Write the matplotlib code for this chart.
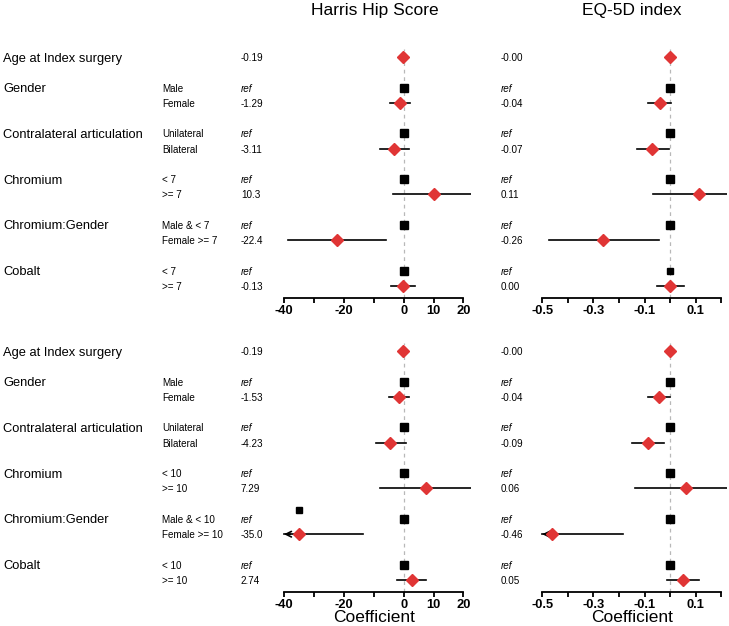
import matplotlib
matplotlib.use('Agg')
import matplotlib.pyplot as plt
from matplotlib import transforms

plt.rcParams['font.family'] = ['Liberation Sans', 'DejaVu Sans']

# ---------------- data ----------------
main_labels = ["Age at Index surgery", "Gender", "Contralateral articulation",
               "Chromium", "Chromium:Gender", "Cobalt"]
main_rows = [0, 2, 5, 8, 11, 14]
rows = [0, 2, 3, 5, 6, 8, 9, 11, 12, 14, 15]
is_ref = [False, True, False, True, False, True, False, True, False, True, False]

sub_top = ["", "Male", "Female", "Unilateral", "Bilateral", "< 7", ">= 7",
           "Male & < 7", "Female >= 7", "< 7", ">= 7"]
sub_bottom = ["", "Male", "Female", "Unilateral", "Bilateral", "< 10", ">= 10",
              "Male & < 10", "Female >= 10", "< 10", ">= 10"]

# Harris Hip Score, top model
hhs_top_est = [-0.19, 0, -1.29, 0, -3.11, 0, 10.3, 0, -22.4, 0, -0.13]
hhs_top_lo = [None, None, -4.7, None, -8.0, None, -3.6, None, -38.8, None, -4.1]
hhs_top_hi = [None, None, 2.2, None, 1.7, None, 25.0, None, -5.8, None, 3.9]
hhs_top_txt = ["-0.19", "ref", "-1.29", "ref", "-3.11", "ref", "10.3", "ref", "-22.4", "ref", "-0.13"]

# EQ-5D index, top model
eq_top_est = [-0.002, 0, -0.04, 0, -0.07, 0, 0.112, 0, -0.262, 0, 0.0]
eq_top_lo = [None, None, -0.086, None, -0.131, None, -0.066, None, -0.474, None, -0.051]
eq_top_hi = [None, None, 0.005, None, -0.005, None, 0.30, None, -0.044, None, 0.054]
eq_top_txt = ["-0.00", "ref", "-0.04", "ref", "-0.07", "ref", "0.11", "ref", "-0.26", "ref", "0.00"]

# Harris Hip Score, bottom model
hhs_bot_est = [-0.19, 0, -1.53, 0, -4.4, 0, 7.4, 0, -34.9, 0, 2.8]
hhs_bot_lo = [None, None, -4.9, None, -9.2, None, -8.0, None, -45.0, None, -2.1]
hhs_bot_hi = [None, None, 1.8, None, 0.7, None, 25.0, None, -13.6, None, 7.6]
hhs_bot_txt = ["-0.19", "ref", "-1.53", "ref", "-4.23", "ref", "7.29", "ref", "-35.0", "ref", "2.74"]
hhs_bot_extra_x = -35.0
hhs_bot_extra_row = 10.4

# EQ-5D index, bottom model
eq_bot_est = [-0.002, 0, -0.043, 0, -0.086, 0, 0.06, 0, -0.46, 0, 0.051]
eq_bot_lo = [None, None, -0.086, None, -0.148, None, -0.138, None, -0.60, None, -0.012]
eq_bot_hi = [None, None, 0.0, None, -0.023, None, 0.30, None, -0.184, None, 0.112]
eq_bot_txt = ["-0.00", "ref", "-0.04", "ref", "-0.09", "ref", "0.06", "ref", "-0.46", "ref", "0.05"]

hhs_ticks = [-40, -30, -20, -10, 0, 10, 20]
hhs_ticklabels = ["-40", "", "-20", "", "0", "10", "20"]
eq_ticks = [-0.5, -0.4, -0.3, -0.2, -0.1, 0.0, 0.1, 0.2]
eq_ticklabels = ["-0.5", "", "-0.3", "", "-0.1", "", "0.1", ""]

# ---------------- layout ----------------
W, H = 729, 626
fig = plt.figure(figsize=(W / 100, H / 100), dpi=100)
bg = fig.add_axes([0, 0, 1, 1])
bg.set_xlim(0, W)
bg.set_ylim(H, 0)
bg.axis('off')

RED = '#e03535'
GREY = '#b8b8b8'


def px_axes(x0, x1, y0, y1):
    return fig.add_axes([x0 / W, 1 - y1 / H, (x1 - x0) / W, (y1 - y0) / H])


def panel(ax, est, lo, hi, xlim, ticks, ticklabels, bound, arrow_to, small_ref=None):
    ax.set_xlim(*xlim)
    ax.set_ylim(15.8, -0.5)
    ax.patch.set_alpha(0)
    for s in ['top', 'left', 'right']:
        ax.spines[s].set_visible(False)
    ax.spines['bottom'].set_bounds(*bound)
    ax.spines['bottom'].set_linewidth(1.3)
    ax.set_yticks([])
    ax.set_xticks(ticks)
    ax.set_xticklabels(ticklabels, fontsize=9.3, fontweight='bold')
    ax.tick_params(axis='x', direction='out', length=3.5, width=1.3, pad=1.2)
    ax.axvline(0, color=GREY, lw=0.9, ls=(0, (3, 3)), zorder=1)
    for r, e, l, h, ref in zip(rows, est, lo, hi, is_ref):
        if l is not None:
            if l < xlim[0]:
                ax.plot([arrow_to, h], [r, r], color='black', lw=1.2, zorder=2)
                ax.annotate('', xy=(arrow_to, r), xytext=(arrow_to + (h - arrow_to) * 0.08, r),
                            arrowprops=dict(arrowstyle='->', lw=1.2, color='black',
                                            mutation_scale=10, shrinkA=0, shrinkB=0),
                            zorder=2)
            else:
                ax.plot([l, h], [r, r], color='black', lw=1.2, zorder=2)
        if ref:
            ms = 6
            if small_ref is not None and r == small_ref:
                ms = 3.8
            ax.plot([e], [r], marker='s', ms=ms, color='black', mec='black', zorder=3,
                    linestyle='none')
        else:
            ax.plot([e], [r], marker='D', ms=5.8, color=RED, mec=RED, zorder=3,
                    linestyle='none')


HHS_X = (282.5, 470.9)
HHS_LIM = (-40.5, 22.5)
EQ_X = (539.7, 727.0)
EQ_LIM = (-0.51, 0.222)
TOP_Y = (49.4, 298.2)
BOT_Y = (343.4, 592.2)

ax1 = px_axes(*HHS_X, *TOP_Y)
ax2 = px_axes(*EQ_X, *TOP_Y)
ax3 = px_axes(*HHS_X, *BOT_Y)
ax4 = px_axes(*EQ_X, *BOT_Y)

panel(ax1, hhs_top_est, hhs_top_lo, hhs_top_hi, HHS_LIM, hhs_ticks, hhs_ticklabels, (-40, 20), -40)
panel(ax2, eq_top_est, eq_top_lo, eq_top_hi, EQ_LIM, eq_ticks, eq_ticklabels, (-0.5, 0.2), -0.5,
      small_ref=14)
panel(ax3, hhs_bot_est, hhs_bot_lo, hhs_bot_hi, HHS_LIM, hhs_ticks, hhs_ticklabels, (-40, 20), -40)
panel(ax4, eq_bot_est, eq_bot_lo, eq_bot_hi, EQ_LIM, eq_ticks, eq_ticklabels, (-0.5, 0.2), -0.5)
ax3.plot([hhs_bot_extra_x], [hhs_bot_extra_row], marker='s', ms=4.6, color='black',
         linestyle='none', zorder=3)

# ---------------- text ----------------
for axL, axR, subs, txtL, txtR in [(ax1, ax2, sub_top, hhs_top_txt, eq_top_txt),
                                    (ax3, ax4, sub_bottom, hhs_bot_txt, eq_bot_txt)]:
    tr = transforms.blended_transform_factory(bg.transData, axL.transData)
    for lab, r in zip(main_labels, main_rows):
        bg.text(3, r, lab, transform=tr, fontsize=9.3, va='center_baseline', ha='left')
    for s, r, tl, trr, ref in zip(subs, rows, txtL, txtR, is_ref):
        if s:
            bg.text(162, r, s, transform=tr, fontsize=7.1, va='center_baseline', ha='left')
        style = 'italic' if ref else 'normal'
        bg.text(241, r, tl, transform=tr, fontsize=7.1, va='center_baseline', ha='left', style=style)
        bg.text(501, r, trr, transform=tr, fontsize=7.1, va='center_baseline', ha='left', style=style)

bg.text(374.5, 15, "Harris Hip Score", fontsize=12.5, ha='center', va='baseline')
bg.text(632, 15, "EQ-5D index", fontsize=12.5, ha='center', va='baseline')
bg.text(374.5, 622, "Coefficient", fontsize=12.5, ha='center', va='baseline')
bg.text(632, 622, "Coefficient", fontsize=12.5, ha='center', va='baseline')

fig.savefig('out.png', dpi=100)
